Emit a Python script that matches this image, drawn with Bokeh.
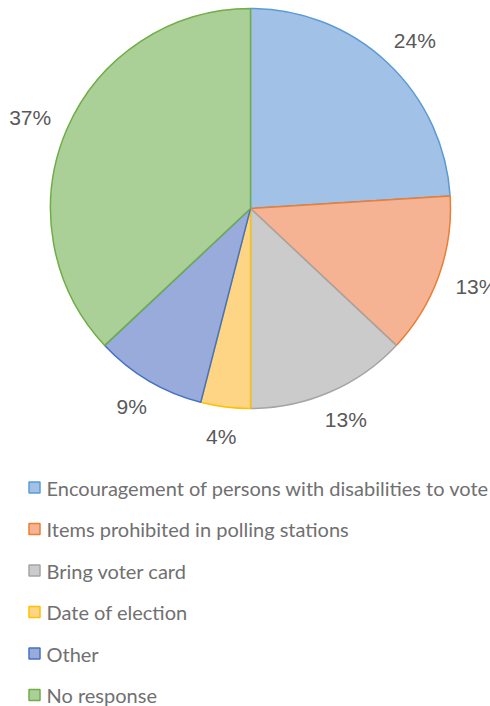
import math
from bokeh.plotting import figure
from bokeh.models import Range1d, ColumnDataSource
from bokeh.core.properties import value
from bokeh.embed import file_html
from bokeh.resources import INLINE

categories = ["Encouragement of persons with disabilities to vote",
              "Items prohibited in polling stations",
              "Bring voter card",
              "Date of election",
              "Other",
              "No response"]
values = [24, 13, 13, 4, 9, 37]
labels = ["24%", "13%", "13%", "4%", "9%", "37%"]
fill_colors = ["#A2C1E6", "#F5B394", "#CBCBCB", "#FED584", "#98ABDB", "#AACF97"]
line_colors = ["#5B9BD5", "#ED7D31", "#A5A5A5", "#FFC000", "#4472C4", "#70AD47"]

W, H = 490, 706
p = figure(width=W, height=H, output_backend="svg", toolbar_location=None,
           x_range=Range1d(0, W), y_range=Range1d(0, H),
           x_axis_type=None, y_axis_type=None, min_border=0)
p.outline_line_color = None
p.xgrid.visible = False
p.ygrid.visible = False

cx, cy, r = 250, H - 208, 200
gap = 20
total = sum(values)
starts, ends, lx, ly = [], [], [], []
acc = 0.0
for v, lab in zip(values, labels):
    a0 = math.pi / 2 - 2 * math.pi * acc / total
    a1 = math.pi / 2 - 2 * math.pi * (acc + v) / total
    starts.append(a1)
    ends.append(a0)
    mid = (a0 + a1) / 2
    ux, uy = math.cos(mid), math.sin(mid)
    hw = len(lab) * 6.7
    hh = 10
    lx.append(cx + (r + gap + hw) * ux)
    ly.append(cy + (r + gap + hh) * uy)
    acc += v

src = ColumnDataSource(dict(start=starts, end=ends, fill=fill_colors, line=line_colors,
                            lx=lx, ly=ly, lab=labels))
p.wedge(x=cx, y=cy, radius=r, start_angle="start", end_angle="end", source=src,
        fill_color="fill", line_color="line", line_width=1.5, direction="anticlock")
p.text(x="lx", y="ly", text="lab", source=src, text_font=value("Liberation Sans"),
       text_font_size="21px", text_color="#595959", text_align="center",
       text_baseline="middle")

# legend
ys = [H - (487 + 41.5 * i) for i in range(len(categories))]
lsrc = ColumnDataSource(dict(x=[34] * len(categories), y=ys, tx=[46] * len(categories),
                             name=categories, fill=fill_colors, line=line_colors))
p.rect(x="x", y="y", width=11, height=11, source=lsrc, fill_color="fill",
       line_color="line", line_width=1.5)
p.text(x="tx", y="y", text="name", source=lsrc, text_font=value("Lato"),
       text_font_size="20px", text_color="#707070", text_align="left",
       text_baseline="middle")

open("out.html", "w").write(file_html(p, INLINE))
